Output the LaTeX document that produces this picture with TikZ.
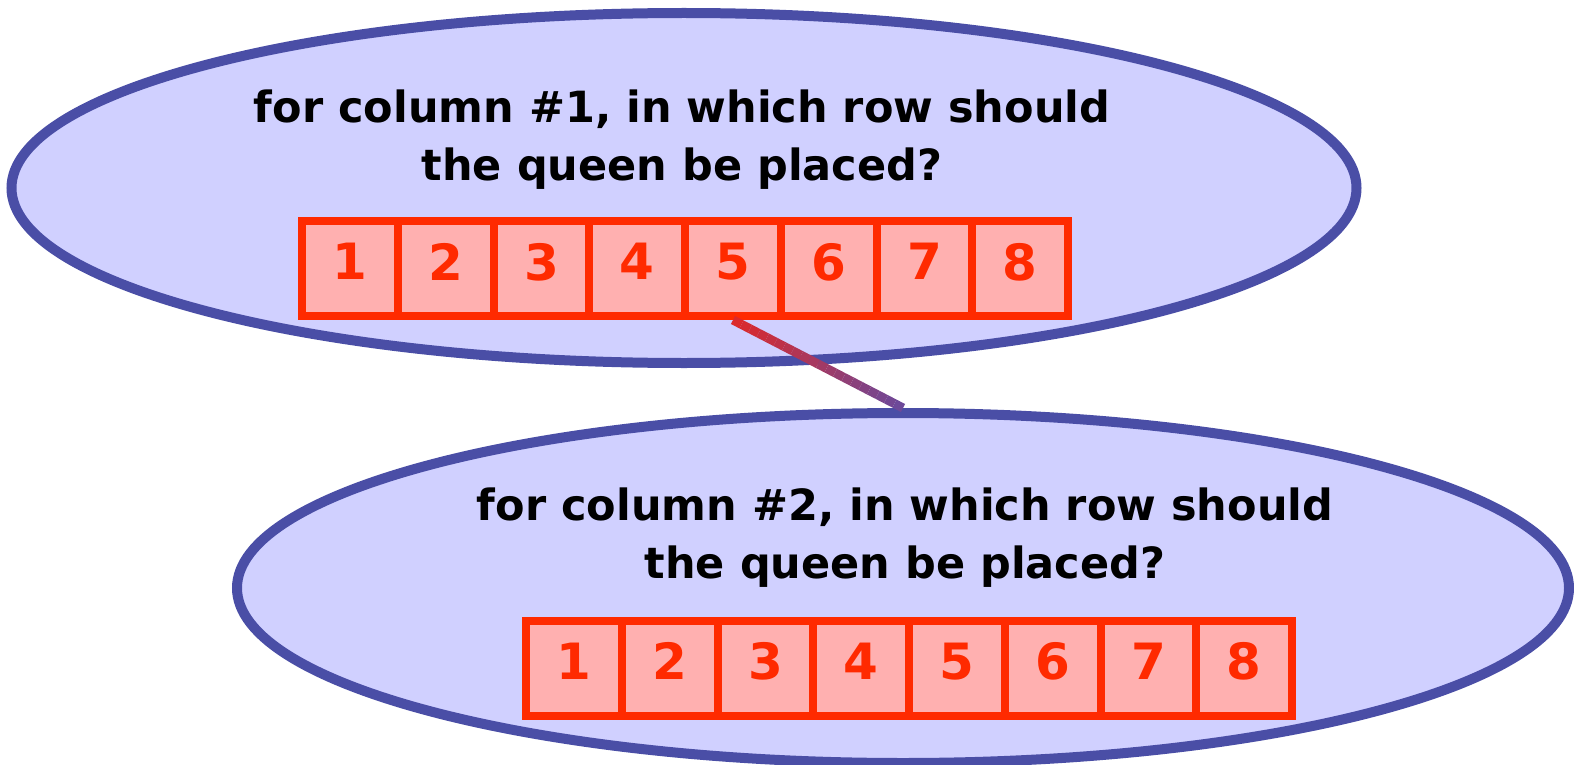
\documentclass[tikz,border=0pt]{standalone}
\usepackage{fontspec}
\setmainfont{DejaVu Sans}
\usepackage{tikz}
\usetikzlibrary{shapes.geometric,positioning,calc}
\definecolor{bubblefill}{RGB}{208,208,255}
\definecolor{bubbleline}{RGB}{74,78,166}
\definecolor{cellfill}{RGB}{255,176,176}
\definecolor{cellline}{RGB}{255,42,0}
\definecolor{linktop}{RGB}{222,40,40}
\definecolor{linkbot}{RGB}{106,74,156}

\tikzset{
  bubble/.style={ellipse, draw=bubbleline, fill=bubblefill, line width=10pt,
                 minimum height=350pt},
  question/.style={align=center, font=\bfseries\fontsize{43}{58}\selectfont},
  cell/.style={draw=cellline, fill=cellfill, line width=8pt,
               minimum width=95.75pt, minimum height=95pt, inner sep=0pt,
               text=cellline, text depth=14pt,
               font=\bfseries\fontsize{50}{54}\selectfont}
}

\begin{document}
\begin{tikzpicture}[x=1pt, y=-1pt]
  \useasboundingbox (0,0) rectangle (1574,765);

  % first question
  \node[bubble, minimum width=1345pt] (ell1) at (684,188) {};
  \node[question] (q1) at (682,140) {for column \#1, in which row should\\the queen be placed?};
  \foreach \i in {1,...,8}
    \node[cell] (rowA\i) at ({350+(\i-1)*95.75},268.5) {\i};

  % second question
  \node[bubble, minimum width=1332pt] (ell2) at (903,588) {};
  \node[question] (q2) at (905,538) {for column \#2, in which row should\\the queen be placed?};
  \foreach \i in {1,...,8}
    \node[cell] (rowB\i) at ({574+(\i-1)*95.75},668) {\i};

  % link from row 5 to next question
  \coordinate (linkA) at (rowA5.south);
  \coordinate (linkB) at (ell2.north);
  \foreach \i in {0,...,19}{
    \pgfmathsetmacro\ta{\i/20}
    \pgfmathsetmacro\tb{(\i+1)/20}
    \pgfmathsetmacro\mix{100*(\i+0.5)/20}
    \draw[line width=9pt, linkbot!\mix!linktop] ($(linkA)!\ta!(linkB)$) -- ($(linkA)!\tb!(linkB)$);
  }
\end{tikzpicture}
\end{document}
